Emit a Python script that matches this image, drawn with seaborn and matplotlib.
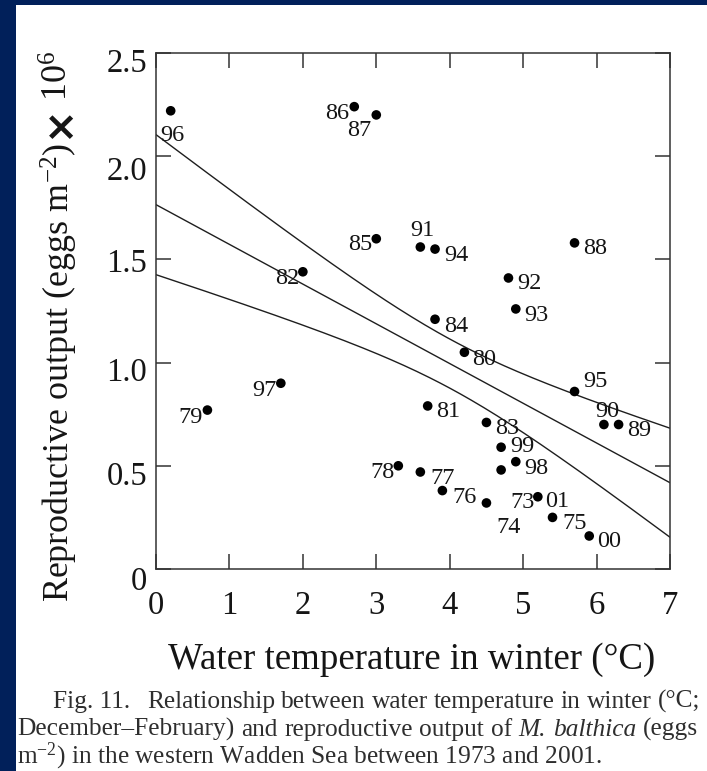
import numpy as np
import pandas as pd
import seaborn as sns
import matplotlib.pyplot as plt
import matplotlib.transforms as mtrans
from matplotlib.patches import Rectangle

# ---- data: winter water temperature vs. reproductive output, 1973-2001 ----
years = ['73', '74', '75', '76', '77', '78', '79', '80', '81', '82',
         '83', '84', '85', '86', '87', '88', '89', '90', '91', '92',
         '93', '94', '95', '96', '97', '98', '99', '00', '01']
temperature = [4.70, 4.50, 5.40, 3.90, 3.60, 3.30, 0.70, 4.20, 3.70, 2.00,
               4.50, 3.80, 3.00, 2.70, 3.00, 5.70, 6.30, 6.10, 3.60, 4.80,
               4.90, 3.80, 5.70, 0.20, 1.70, 4.90, 4.70, 5.90, 5.20]
output = [0.48, 0.32, 0.25, 0.38, 0.47, 0.50, 0.77, 1.05, 0.79, 1.44,
          0.71, 1.21, 1.60, 2.24, 2.20, 1.58, 0.70, 0.70, 1.56, 1.41,
          1.26, 1.55, 0.86, 2.22, 0.90, 0.52, 0.59, 0.16, 0.35]

xticks = [0, 1, 2, 3, 4, 5, 6, 7]
xtick_labels = ['0', '1', '2', '3', '4', '5', '6', '7']
yticks = [0, 0.5, 1.0, 1.5, 2.0, 2.5]
ytick_labels = ['0', '0.5', '1.0', '1.5', '2.0', '2.5']

xlabel_text = 'Water temperature in winter (°C)'
ylabel_main = r'Reproductive output (eggs m$^{-2}$)'
ylabel_times = '×'
ylabel_scale = r'10$^{6}$'
caption_lead = 'Fig. 11.'
caption_line1 = 'Relationship between water temperature in winter (°C;'
caption_line2 = [('December–February)', 'normal'), ('and', 'normal'),
                 ('reproductive', 'normal'), ('output', 'normal'),
                 ('of', 'normal'), ('M.', 'italic'), ('balthica', 'italic'),
                 ('(eggs', 'normal')]
caption_line3 = r'm$^{-2}$) in the western Wadden Sea between 1973 and 2001.'

# ---- label placement around each dot (pixels: right, down) ----
label_offset = {
    '96': (2, 23), '86': (-17, 5), '87': (-17, 14), '85': (-16, 4),
    '82': (-16, 5), '91': (2, -19), '94': (21, 4), '88': (21, 4),
    '92': (21, 4), '93': (21, 5), '84': (21, 5), '80': (20, 5),
    '95': (21, -12), '81': (21, 4), '83': (21, 4), '90': (3, -15),
    '89': (21, 4), '97': (-16, 5), '79': (-17, 5), '78': (-16, 5),
    '99': (21, -3), '98': (21, 5), '77': (22, 5), '76': (22, 5),
    '73': (21, 31), '01': (19, 3), '74': (22, 23), '75': (22, 4),
    '00': (20, 4),
}
# small downward nudges of the y tick labels (pixels)
ytick_shift = [9, 7, 7, 1, 12, 7]

W, H, DPI = 707, 771, 100
NAVY = '#01205A'
INK = '#151515'
CAPTION_INK = '#2e2e2e'

sns.set_theme(style='ticks')
plt.rcParams['font.family'] = ['Liberation Serif', 'DejaVu Serif']
plt.rcParams['mathtext.fontset'] = 'custom'
plt.rcParams['mathtext.rm'] = 'Liberation Serif'
plt.rcParams['mathtext.it'] = 'Liberation Serif:italic'

df = pd.DataFrame({'year': years, 'temperature': temperature, 'output': output})

fig = plt.figure(figsize=(W / DPI, H / DPI), dpi=DPI, facecolor=NAVY)
fig.patches.append(Rectangle((16 / W, 0), 1 - 16 / W, 1 - 5 / H,
                             transform=fig.transFigure, facecolor='white',
                             edgecolor='none', zorder=-5))


def fxy(px, py):
    return px / W, 1 - py / H


ax = fig.add_axes([156 / W, 1 - 569 / H, (670 - 156) / W, (569 - 53) / H])
ax.set_xlim(0, 7)
ax.set_ylim(0, 2.5)

# least-squares line drawn across the full temperature range
sns.regplot(data=df, x='temperature', y='output', ax=ax, scatter=False,
            ci=None, truncate=False,
            line_kws=dict(color='#1e1e1e', lw=1.0, zorder=2))

# band around the fitted line (standard error of the mean prediction)
x = df['temperature'].to_numpy()
y = df['output'].to_numpy()
n = len(x)
slope, intercept = np.polyfit(x, y, 1)
resid = y - (intercept + slope * x)
s = np.sqrt(np.sum(resid ** 2) / (n - 2))
sxx = np.sum((x - x.mean()) ** 2)
band_k = 1.18
xg = np.linspace(0, 7, 200)
se = s * np.sqrt(1 / n + (xg - x.mean()) ** 2 / sxx)
band = pd.DataFrame({'t': np.concatenate([xg, xg]),
                     'v': np.concatenate([intercept + slope * xg + band_k * se,
                                          intercept + slope * xg - band_k * se]),
                     'side': ['upper'] * len(xg) + ['lower'] * len(xg)})
sns.lineplot(data=band, x='t', y='v', units='side', estimator=None,
             color='#1e1e1e', lw=1.0, ax=ax, zorder=2, legend=False)

sns.scatterplot(data=df, x='temperature', y='output', ax=ax, color='black',
                s=48, edgecolor='none', zorder=3, legend=False)

for yr, xv, yv in zip(years, temperature, output):
    dx, dy = label_offset[yr]
    ax.annotate(yr, (xv, yv), xytext=(dx, -(dy + 2)),
                textcoords='offset pixels', ha='center', va='center',
                fontsize=17.5, color=INK, zorder=4)

ax.set_xlim(0, 7)
ax.set_ylim(0, 2.5)
ax.set_xlabel('')
ax.set_ylabel('')
ax.set_xticks(xticks, xtick_labels)
ax.set_yticks(yticks, ytick_labels)
ax.tick_params(direction='in', length=11, width=1.1, color='#333333',
               top=True, right=True, labelsize=23.5, labelcolor=INK)
ax.tick_params(axis='x', pad=15.5)
ax.tick_params(axis='y', pad=6.5)
for sp in ax.spines.values():
    sp.set_visible(True)
    sp.set_linewidth(1.1)
    sp.set_color('#333333')
ax.set_facecolor('white')

for lab, d in zip(ax.get_yticklabels(), ytick_shift):
    lab.set_transform(lab.get_transform() +
                      mtrans.ScaledTranslation(0, -d / DPI, fig.dpi_scale_trans))

renderer = fig.canvas.get_renderer()


def fit_size(txt, target, dim='width'):
    bb = txt.get_window_extent(renderer)
    cur = bb.width if dim == 'width' else bb.height
    txt.set_fontsize(txt.get_fontsize() * target / cur)


# x axis title
xl = fig.text(*fxy(412, 669), xlabel_text, ha='center', va='baseline',
              fontsize=23, color=INK)
fit_size(xl, 488)

# y axis title, stacked bottom-to-top: main text, heavy times sign, 10^6
ya = fig.text(*fxy(59, 602), ylabel_main, rotation=90, ha='center',
              va='bottom', fontsize=23, color=INK)
fit_size(ya, 460, 'height')
top = 602 - ya.get_window_extent(renderer).height
yb = fig.text(*fxy(60, top - 5), ylabel_times, rotation=90, ha='center',
              va='bottom', fontsize=29, fontweight='bold',
              family=['DejaVu Sans'], color=INK)
top = top - 5 - yb.get_window_extent(renderer).height
yc = fig.text(*fxy(59, top - 3), ylabel_scale, rotation=90, ha='center',
              va='bottom', fontsize=ya.get_fontsize(), color=INK)

# caption, justified like the printed figure legend
l3 = fig.text(*fxy(17, 763), caption_line3, ha='left', va='baseline',
              fontsize=16, color=CAPTION_INK)
fit_size(l3, 587)
cap_fs = l3.get_fontsize()


def justified(words, x0, x1, base):
    items = [fig.text(0, 0, w, fontsize=cap_fs, style=st, color=CAPTION_INK,
                      ha='left', va='baseline') for w, st in words]
    widths = [t.get_window_extent(renderer).width for t in items]
    gap = (x1 - x0 - sum(widths)) / (len(items) - 1)
    xp = x0
    for t, w in zip(items, widths):
        t.set_position(fxy(xp, base))
        xp += w + gap


fig.text(*fxy(53, 708), caption_lead, ha='left', va='baseline',
         fontsize=cap_fs, color=CAPTION_INK)
justified([(w, 'normal') for w in caption_line1.split(' ')], 147, 700, 708)
justified(caption_line2, 17, 698, 736)

fig.savefig('out.png', dpi=DPI, facecolor=NAVY)
